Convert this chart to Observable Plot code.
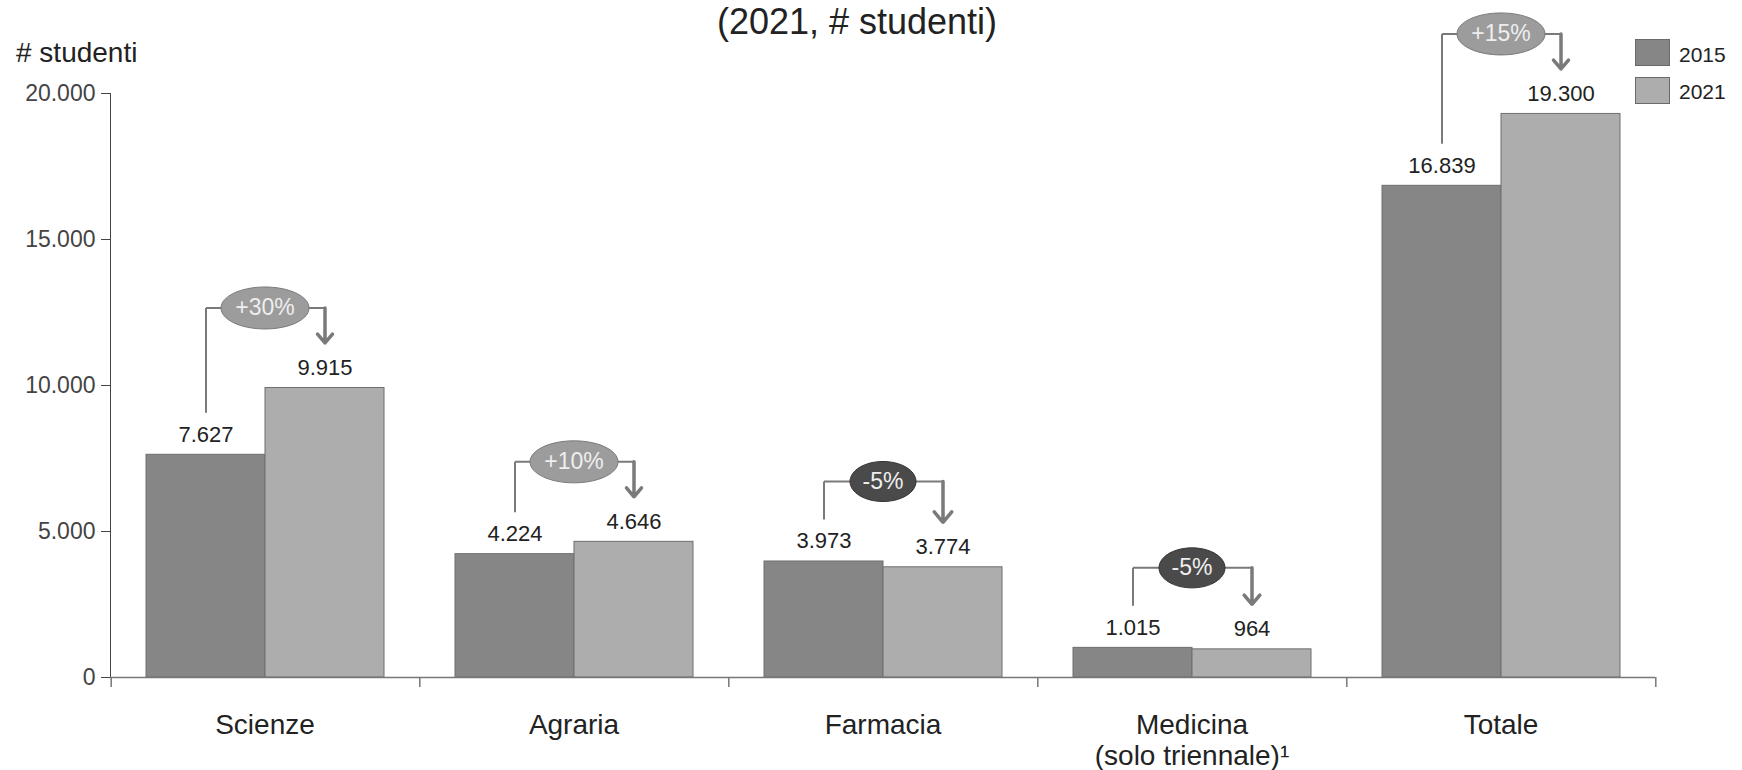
<!DOCTYPE html>
<html>
<head>
<meta charset="utf-8">
<script src="https://cdn.jsdelivr.net/npm/d3@7"></script>
<script src="https://cdn.jsdelivr.net/npm/@observablehq/plot@0.6"></script>
<style>
  body { margin: 0; background: #fff; font-family: "Liberation Sans", Arial, sans-serif; }
  #wrap { position: relative; width: 1742px; height: 770px; overflow: hidden; background: #fff; }
  .ov { position: absolute; white-space: nowrap; color: #222; }
  .sw { position: absolute; width: 35px; height: 27px; box-sizing: border-box; border: 1px solid #6a6a6a; }
</style>
</head>
<body>
<div id="wrap"></div>
<script>
// ---- data ----
const categories = ["Scienze", "Agraria", "Farmacia", "Medicina", "Totale"];
const categoryLabels = ["Scienze", "Agraria", "Farmacia", "Medicina\n(solo triennale)¹", "Totale"];
const years = [2015, 2021];
const values2015 = [7627, 4224, 3973, 1015, 16839];
const values2021 = [9915, 4646, 3774, 964, 19300];
const changePct = [30, 10, -5, -5, 15];
const yTicks = [0, 5000, 10000, 15000, 20000];
const yearColors = ["#868686", "#adadad"];
const titleText = "(2021, # studenti)";
const yLabelText = "# studenti";

// ---- layout ----
const W = 1742, H = 770;
const mT = 93, mB = 93, mL = 109, mR = 87;
const insetX = 35;
const facetW = (W - mL - mR) / categories.length;
const barW = (facetW - 2 * insetX) / 2;
const upp = 20000 / (H - mT - mB); // data units per pixel

const itLocale = d3.formatLocale({decimal: ",", thousands: ".", grouping: [3], currency: ["", "€"]});
const fmt = itLocale.format(",d");

const bars = categories.flatMap((c, i) => [
  {cat: c, year: years[0], value: values2015[i]},
  {cat: c, year: years[1], value: values2021[i]}
]);

const ann = categories.map((c, i) => ({
  cat: c,
  x15: years[0],
  x21: years[1],
  start: values2015[i] + 42 * upp,
  level: Math.max(values2015[i], values2021[i]) + 80 * upp,
  tip: values2021[i] + 45 * upp,
  pct: changePct[i],
  label: (changePct[i] > 0 ? "+" : "") + changePct[i] + "%"
}));

const catRows = categories.map((c, i) => ({cat: c, label: categoryLabels[i]}));

function ellipseSymbol(rx, ry) {
  const k = 0.5523;
  return {
    draw(ctx) {
      ctx.moveTo(rx, 0);
      ctx.bezierCurveTo(rx, ry * k, rx * k, ry, 0, ry);
      ctx.bezierCurveTo(-rx * k, ry, -rx, ry * k, -rx, 0);
      ctx.bezierCurveTo(-rx, -ry * k, -rx * k, -ry, 0, -ry);
      ctx.bezierCurveTo(rx * k, -ry, rx, -ry * k, rx, 0);
      ctx.closePath();
    }
  };
}

const lineColor = "#7a7a7a";

const chart = Plot.plot({
  width: W,
  height: H,
  marginTop: mT,
  marginBottom: mB,
  marginLeft: mL,
  marginRight: mR,
  style: {fontFamily: "Liberation Sans, Arial, sans-serif", fontSize: "23px", color: "#444", background: "transparent"},
  fx: {domain: categories, padding: 0, axis: null, label: null},
  x: {domain: years, padding: 0, insetLeft: insetX, insetRight: insetX, axis: null, label: null},
  y: {domain: [0, 20000], ticks: yTicks, tickFormat: fmt, tickSize: 9, tickPadding: 6, line: true, label: null},
  color: {domain: years, range: yearColors},
  marks: [
    Plot.barY(bars, {fx: "cat", x: "year", y: "value", fill: "year", stroke: "#6e6e6e", strokeWidth: 1}),
    Plot.ruleY([0], {stroke: "#777", strokeWidth: 1.5}),
    Plot.ruleX(catRows, {fx: "cat", x: () => years[1], y1: 0, y2: -10 * upp, dx: insetX + barW / 2, stroke: "#777", strokeWidth: 1.5}),
    Plot.ruleX(catRows.slice(0, 1), {fx: "cat", x: () => years[0], y1: 0, y2: -10 * upp, dx: -(insetX + barW / 2), stroke: "#777", strokeWidth: 1.5}),
    Plot.text(bars, {fx: "cat", x: "year", y: "value", text: d => fmt(d.value), dy: -13, lineAnchor: "bottom", fontSize: 22, fill: "#222"}),
    Plot.link(ann, {fx: "cat", x1: "x15", x2: "x15", y1: "start", y2: "level", stroke: lineColor, strokeWidth: 2}),
    Plot.link(ann, {fx: "cat", x1: "x15", x2: "x21", y1: "level", y2: "level", stroke: lineColor, strokeWidth: 2}),
    Plot.arrow(ann, {fx: "cat", x1: "x21", x2: "x21", y1: "level", y2: "tip", bend: 0, headLength: 16, headAngle: 80, stroke: lineColor, strokeWidth: 3.5}),
    Plot.dot(ann, {filter: d => d.pct >= 0, fx: "cat", y: "level", r: 20, symbol: ellipseSymbol(44, 21), fill: "#9c9c9c", stroke: "#7a7a7a", strokeWidth: 1}),
    Plot.dot(ann, {filter: d => d.pct < 0, fx: "cat", y: "level", r: 20, symbol: ellipseSymbol(33, 20), fill: "#4a4a4a", stroke: "#333", strokeWidth: 1}),
    Plot.text(ann, {fx: "cat", y: "level", text: "label", fill: "#eeeeee", fontSize: 23}),
    Plot.text(catRows, {fx: "cat", text: "label", frameAnchor: "bottom", lineAnchor: "top", dy: 35, fontSize: 28, lineHeight: 1.1, fill: "#222"})
  ]
});

const wrap = document.getElementById("wrap");
wrap.appendChild(chart);

const title = document.createElement("div");
title.className = "ov";
title.textContent = titleText;
Object.assign(title.style, {left: "857px", top: "4px", transform: "translateX(-50%)", fontSize: "36px", lineHeight: "36px"});
wrap.appendChild(title);

const ylab = document.createElement("div");
ylab.className = "ov";
ylab.textContent = yLabelText;
Object.assign(ylab.style, {left: "16px", top: "39px", fontSize: "28px", lineHeight: "28px"});
wrap.appendChild(ylab);

years.forEach((yr, i) => {
  const sw = document.createElement("div");
  sw.className = "sw";
  Object.assign(sw.style, {left: "1635px", top: (39 + i * 38) + "px", background: yearColors[i]});
  wrap.appendChild(sw);
  const t = document.createElement("div");
  t.className = "ov";
  t.textContent = String(yr);
  Object.assign(t.style, {left: "1679px", top: (44 + i * 37) + "px", fontSize: "21px", lineHeight: "21px"});
  wrap.appendChild(t);
});
</script>
</body>
</html>
